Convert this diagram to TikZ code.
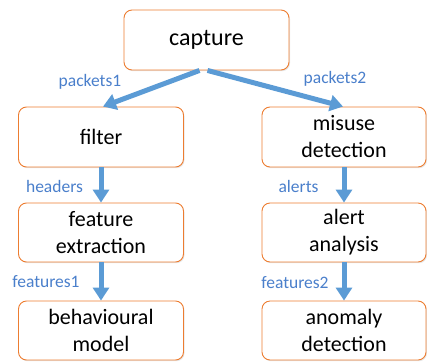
\documentclass[tikz,border=0pt]{standalone}
\usepackage{fontspec}
\setmainfont{Carlito}
\usepackage{xcolor}
\usetikzlibrary{arrows.meta,shadows}
\definecolor{boxline}{HTML}{ED7D31}
\definecolor{flowblue}{HTML}{5B9BD5}
\definecolor{labelblue}{HTML}{4A7FCB}

\begin{document}
\begin{tikzpicture}[x=1pt,y=1pt]
\tikzset{stage/.style={draw=boxline,line width=0.9pt,fill=white,rounded corners=8pt,
  minimum width=165pt,minimum height=60pt,align=center,inner sep=0pt,
  font=\fontsize{22}{27}\selectfont,
  drop shadow={opacity=0.2,shadow xshift=1pt,shadow yshift=-1.2pt}}}
\tikzset{flow/.style={draw=flowblue,line width=5pt,-{Triangle[width=16pt,length=13pt]}}}
\tikzset{tag/.style={text=labelblue,font=\fontsize{17.5}{20}\selectfont,inner sep=0pt}}

\useasboundingbox (0,0) rectangle (427,-361);

% stages
\node[stage,font=\fontsize{24}{28}\selectfont] (capture) at (206.5,-40) {capture};
\node[stage] (filter) at (101,-137) {filter};
\node[stage,minimum width=164pt] (misuse) at (344,-137) {misuse\\detection};
\node[stage,minimum height=59pt] (extract) at (101,-232.5) {feature\\extraction};
\node[stage,minimum width=164pt,minimum height=59pt] (alert) at (344,-232.5) {alert\\analysis};
\node[stage,minimum height=59pt] (behav) at (101,-330.5) {behavioural\\model};
\node[stage,minimum width=164pt,minimum height=59pt] (anomaly) at (344,-330.5) {anomaly\\detection};

% flows
\draw[flow] ([xshift=-7pt]capture.south) -- ([xshift=2pt]filter.north);
\draw[flow] ([xshift=1pt]capture.south) -- ([xshift=-1pt]misuse.north);
\draw[flow] (filter) -- (extract);
\draw[flow] (extract) -- (behav);
\draw[flow] (misuse) -- (alert);
\draw[flow] (alert) -- (anomaly);

% labels
\node[tag] (packetsA) at (90,-82) {packets1};
\node[tag] (packetsB) at (335,-79) {packets2};
\node[tag] (headers) at (54.5,-186) {headers};
\node[tag] (alerts) at (298.5,-186) {alerts};
\node[tag] (featuresA) at (46,-282) {features1};
\node[tag] (featuresB) at (295,-283) {features2};

\end{tikzpicture}
\end{document}
